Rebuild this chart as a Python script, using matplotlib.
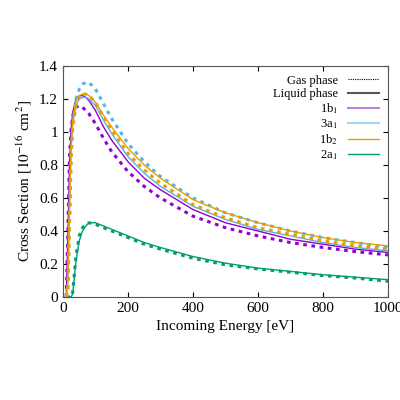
import numpy as np
import matplotlib.pyplot as plt
from matplotlib.lines import Line2D

plt.rcParams['font.family'] = ['Liberation Serif', 'DejaVu Serif']
plt.rcParams['mathtext.fontset'] = 'stix'

energy = [10, 15, 20, 25, 30, 40, 50, 60, 70, 80, 100, 125, 150, 200, 250, 300, 400, 500, 600, 700, 800, 900, 1000]

# liquid phase (solid)
liq_1b1 = [0.0, 0.35, 0.80, 1.02, 1.12, 1.20, 1.22, 1.22, 1.21, 1.19, 1.13, 1.03, 0.95, 0.82, 0.72, 0.65, 0.53, 0.45, 0.40, 0.35, 0.32, 0.29, 0.27]
liq_3a1 = [0.0, 0.10, 0.55, 0.90, 1.05, 1.16, 1.20, 1.21, 1.21, 1.20, 1.16, 1.07, 0.99, 0.85, 0.75, 0.67, 0.55, 0.47, 0.41, 0.37, 0.33, 0.30, 0.28]
liq_1b2 = [0.0, 0.10, 0.55, 0.92, 1.08, 1.19, 1.22, 1.23, 1.23, 1.22, 1.18, 1.10, 1.03, 0.90, 0.80, 0.72, 0.59, 0.51, 0.45, 0.40, 0.36, 0.33, 0.31]
liq_2a1 = [0.0, 0.0, 0.0, 0.0, 0.02, 0.22, 0.34, 0.40, 0.43, 0.45, 0.45, 0.43, 0.41, 0.37, 0.33, 0.30, 0.245, 0.205, 0.175, 0.155, 0.135, 0.12, 0.105]

# gas phase (dotted)
gas_1b1 = [0.0, 0.40, 0.85, 1.02, 1.10, 1.15, 1.16, 1.15, 1.13, 1.11, 1.05, 0.96, 0.88, 0.76, 0.67, 0.60, 0.49, 0.42, 0.37, 0.33, 0.30, 0.275, 0.255]
gas_3a1 = [0.0, 0.05, 0.45, 0.85, 1.05, 1.20, 1.26, 1.29, 1.30, 1.30, 1.26, 1.17, 1.08, 0.93, 0.82, 0.73, 0.60, 0.51, 0.45, 0.40, 0.36, 0.33, 0.30]
gas_1b2 = [0.0, 0.05, 0.45, 0.85, 1.03, 1.16, 1.21, 1.23, 1.23, 1.22, 1.18, 1.09, 1.01, 0.87, 0.77, 0.69, 0.56, 0.48, 0.42, 0.38, 0.34, 0.31, 0.29]
gas_2a1 = [0.0, 0.0, 0.0, 0.0, 0.03, 0.25, 0.37, 0.42, 0.44, 0.45, 0.44, 0.42, 0.40, 0.36, 0.32, 0.29, 0.235, 0.195, 0.17, 0.15, 0.13, 0.115, 0.095]

colors = {'1b1': '#9400D3', '3a1': '#56B4E9', '1b2': '#E69F00', '2a1': '#009E73'}
dots = (0, (1.2, 1.5))

fig = plt.figure(figsize=(4, 4), dpi=100)
ax = fig.add_axes([0.1575, 0.2575, 0.8125, 0.5775])

for key, liq, gas in [('2a1', liq_2a1, gas_2a1), ('1b1', liq_1b1, gas_1b1),
                      ('3a1', liq_3a1, gas_3a1), ('1b2', liq_1b2, gas_1b2)]:
    ax.plot(energy, gas, color=colors[key], ls=dots, lw=2.2)
    ax.plot(energy, liq, color=colors[key], lw=1.0)

ax.set_xlim(0, 1000)
ax.set_ylim(0, 1.4)
ax.set_xticks([0, 200, 400, 600, 800, 1000])
ax.set_yticks([0, 0.2, 0.4, 0.6, 0.8, 1, 1.2, 1.4])
ax.set_yticklabels(['0', '0.2', '0.4', '0.6', '0.8', '1', '1.2', '1.4'])
ax.tick_params(direction='in', top=True, right=True, labelsize=11)
ax.set_xlabel('Incoming Energy [eV]', fontsize=11)
ax.set_ylabel(r'Cross Section [$10^{-16}$ cm$^2$]', fontsize=11)
for s in ax.spines.values():
    s.set_color('#555555')

handles = [Line2D([], [], color='black', ls=(0, (1, 1)), lw=0.8),
           Line2D([], [], color='#555555', lw=1.5),
           Line2D([], [], color='#c080e0', lw=1.5),
           Line2D([], [], color='#a0d8f8', lw=1.5),
           Line2D([], [], color=colors['1b2'], lw=1.0),
           Line2D([], [], color=colors['2a1'], lw=1.0)]
labels = ['Gas phase', 'Liquid phase', r'1b$_1$', r'3a$_1$', r'1b$_2$', r'2a$_1$']
leg = ax.legend(handles, labels, loc='upper right', frameon=False, markerfirst=False,
                fontsize=9, handlelength=2.5, labelspacing=0.1, borderaxespad=0.3)
for t in leg.get_texts():
    t.set_ha('right')

fig.savefig('out.png', dpi=100)
